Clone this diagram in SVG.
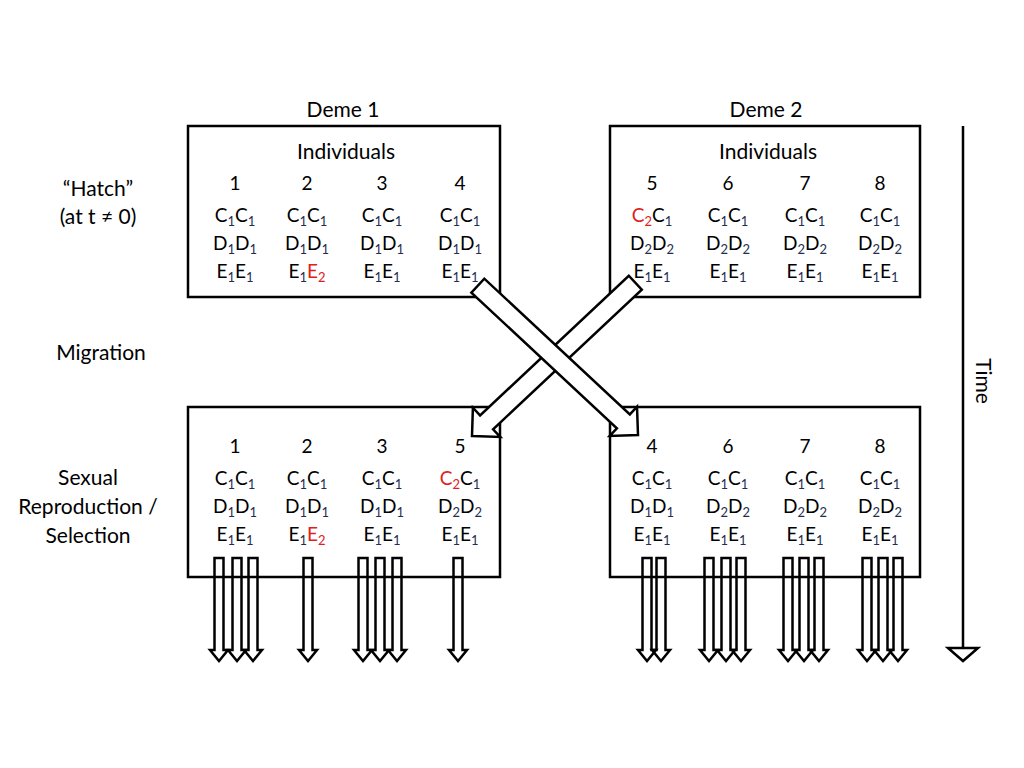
<svg xmlns="http://www.w3.org/2000/svg" width="1024" height="768" viewBox="0 0 1024 768">
<style>
text{font-family:Lato,"Open Sans","Liberation Sans",sans-serif;fill:#000}
.t{font-size:21px;text-anchor:middle}
.n{font-size:19px;text-anchor:middle}
.g{font-size:19px;text-anchor:middle}
.s{font-size:13px;fill:#1f2d4f}
.r{fill:#e0201b}
.box{fill:#fff;stroke:#000;stroke-width:2.5}
.da{fill:none;stroke:#000;stroke-width:2.5;stroke-linejoin:miter}
.ma{fill:#fff;stroke:#000;stroke-width:2.5}
</style>
<defs>
<path id="d" d="M-4.5,558 V650 H-9 L0,661 L9,650 H4.5 V558 Z"/>
</defs>
<text class="t" x="343" y="117">Deme 1</text>
<text class="t" x="766" y="117">Deme 2</text>
<g id="labels">
<text class="t" x="98" y="196">“Hatch”</text>
<text class="t" x="98" y="224">(at t ≠ 0)</text>
<text class="t" x="101" y="360">Migration</text>
<text class="t" x="88" y="485">Sexual</text>
<text class="t" x="88" y="514">Reproduction /</text>
<text class="t" x="88" y="543">Selection</text>
</g>
<g id="deme1-hatch">
<rect class="box" x="188" y="126" width="312" height="171"/>
<text class="t" x="346" y="159">Individuals</text>
<text class="n" x="235" y="190">1</text><text class="n" x="307" y="190">2</text><text class="n" x="382" y="190">3</text><text class="n" x="460" y="190">4</text>
<text class="g" x="235" y="222">C<tspan class="s" dy="4">1</tspan><tspan dy="-4">C</tspan><tspan class="s" dy="4">1</tspan></text>
<text class="g" x="235" y="250">D<tspan class="s" dy="4">1</tspan><tspan dy="-4">D</tspan><tspan class="s" dy="4">1</tspan></text>
<text class="g" x="235" y="278">E<tspan class="s" dy="4">1</tspan><tspan dy="-4">E</tspan><tspan class="s" dy="4">1</tspan></text>
<text class="g" x="307" y="222">C<tspan class="s" dy="4">1</tspan><tspan dy="-4">C</tspan><tspan class="s" dy="4">1</tspan></text>
<text class="g" x="307" y="250">D<tspan class="s" dy="4">1</tspan><tspan dy="-4">D</tspan><tspan class="s" dy="4">1</tspan></text>
<text class="g" x="307" y="278">E<tspan class="s" dy="4">1</tspan><tspan dy="-4" class="r">E</tspan><tspan class="s r" dy="4">2</tspan></text>
<text class="g" x="382" y="222">C<tspan class="s" dy="4">1</tspan><tspan dy="-4">C</tspan><tspan class="s" dy="4">1</tspan></text>
<text class="g" x="382" y="250">D<tspan class="s" dy="4">1</tspan><tspan dy="-4">D</tspan><tspan class="s" dy="4">1</tspan></text>
<text class="g" x="382" y="278">E<tspan class="s" dy="4">1</tspan><tspan dy="-4">E</tspan><tspan class="s" dy="4">1</tspan></text>
<text class="g" x="460" y="222">C<tspan class="s" dy="4">1</tspan><tspan dy="-4">C</tspan><tspan class="s" dy="4">1</tspan></text>
<text class="g" x="460" y="250">D<tspan class="s" dy="4">1</tspan><tspan dy="-4">D</tspan><tspan class="s" dy="4">1</tspan></text>
<text class="g" x="460" y="278">E<tspan class="s" dy="4">1</tspan><tspan dy="-4">E</tspan><tspan class="s" dy="4">1</tspan></text>
</g>
<g id="deme2-hatch">
<rect class="box" x="610" y="126" width="310" height="171"/>
<text class="t" x="768" y="159">Individuals</text>
<text class="n" x="652" y="190">5</text><text class="n" x="728" y="190">6</text><text class="n" x="805" y="190">7</text><text class="n" x="880" y="190">8</text>
<text class="g" x="652" y="222"><tspan class="r">C</tspan><tspan class="s r" dy="4">2</tspan><tspan dy="-4">C</tspan><tspan class="s" dy="4">1</tspan></text>
<text class="g" x="652" y="250">D<tspan class="s" dy="4">2</tspan><tspan dy="-4">D</tspan><tspan class="s" dy="4">2</tspan></text>
<text class="g" x="652" y="278">E<tspan class="s" dy="4">1</tspan><tspan dy="-4">E</tspan><tspan class="s" dy="4">1</tspan></text>
<text class="g" x="728" y="222">C<tspan class="s" dy="4">1</tspan><tspan dy="-4">C</tspan><tspan class="s" dy="4">1</tspan></text>
<text class="g" x="728" y="250">D<tspan class="s" dy="4">2</tspan><tspan dy="-4">D</tspan><tspan class="s" dy="4">2</tspan></text>
<text class="g" x="728" y="278">E<tspan class="s" dy="4">1</tspan><tspan dy="-4">E</tspan><tspan class="s" dy="4">1</tspan></text>
<text class="g" x="805" y="222">C<tspan class="s" dy="4">1</tspan><tspan dy="-4">C</tspan><tspan class="s" dy="4">1</tspan></text>
<text class="g" x="805" y="250">D<tspan class="s" dy="4">2</tspan><tspan dy="-4">D</tspan><tspan class="s" dy="4">2</tspan></text>
<text class="g" x="805" y="278">E<tspan class="s" dy="4">1</tspan><tspan dy="-4">E</tspan><tspan class="s" dy="4">1</tspan></text>
<text class="g" x="880" y="222">C<tspan class="s" dy="4">1</tspan><tspan dy="-4">C</tspan><tspan class="s" dy="4">1</tspan></text>
<text class="g" x="880" y="250">D<tspan class="s" dy="4">2</tspan><tspan dy="-4">D</tspan><tspan class="s" dy="4">2</tspan></text>
<text class="g" x="880" y="278">E<tspan class="s" dy="4">1</tspan><tspan dy="-4">E</tspan><tspan class="s" dy="4">1</tspan></text>
</g>
<g id="deme1-repro">
<rect class="box" x="188" y="407" width="312" height="170"/>
<text class="n" x="235" y="453">1</text><text class="n" x="307" y="453">2</text><text class="n" x="382" y="453">3</text><text class="n" x="460" y="453">5</text>
<text class="g" x="235" y="485">C<tspan class="s" dy="4">1</tspan><tspan dy="-4">C</tspan><tspan class="s" dy="4">1</tspan></text>
<text class="g" x="235" y="513">D<tspan class="s" dy="4">1</tspan><tspan dy="-4">D</tspan><tspan class="s" dy="4">1</tspan></text>
<text class="g" x="235" y="541">E<tspan class="s" dy="4">1</tspan><tspan dy="-4">E</tspan><tspan class="s" dy="4">1</tspan></text>
<text class="g" x="307" y="485">C<tspan class="s" dy="4">1</tspan><tspan dy="-4">C</tspan><tspan class="s" dy="4">1</tspan></text>
<text class="g" x="307" y="513">D<tspan class="s" dy="4">1</tspan><tspan dy="-4">D</tspan><tspan class="s" dy="4">1</tspan></text>
<text class="g" x="307" y="541">E<tspan class="s" dy="4">1</tspan><tspan dy="-4" class="r">E</tspan><tspan class="s r" dy="4">2</tspan></text>
<text class="g" x="382" y="485">C<tspan class="s" dy="4">1</tspan><tspan dy="-4">C</tspan><tspan class="s" dy="4">1</tspan></text>
<text class="g" x="382" y="513">D<tspan class="s" dy="4">1</tspan><tspan dy="-4">D</tspan><tspan class="s" dy="4">1</tspan></text>
<text class="g" x="382" y="541">E<tspan class="s" dy="4">1</tspan><tspan dy="-4">E</tspan><tspan class="s" dy="4">1</tspan></text>
<text class="g" x="460" y="485"><tspan class="r">C</tspan><tspan class="s r" dy="4">2</tspan><tspan dy="-4">C</tspan><tspan class="s" dy="4">1</tspan></text>
<text class="g" x="460" y="513">D<tspan class="s" dy="4">2</tspan><tspan dy="-4">D</tspan><tspan class="s" dy="4">2</tspan></text>
<text class="g" x="460" y="541">E<tspan class="s" dy="4">1</tspan><tspan dy="-4">E</tspan><tspan class="s" dy="4">1</tspan></text>
</g>
<g id="deme2-repro">
<rect class="box" x="610" y="407" width="310" height="170"/>
<text class="n" x="652" y="453">4</text><text class="n" x="728" y="453">6</text><text class="n" x="805" y="453">7</text><text class="n" x="880" y="453">8</text>
<text class="g" x="652" y="485">C<tspan class="s" dy="4">1</tspan><tspan dy="-4">C</tspan><tspan class="s" dy="4">1</tspan></text>
<text class="g" x="652" y="513">D<tspan class="s" dy="4">1</tspan><tspan dy="-4">D</tspan><tspan class="s" dy="4">1</tspan></text>
<text class="g" x="652" y="541">E<tspan class="s" dy="4">1</tspan><tspan dy="-4">E</tspan><tspan class="s" dy="4">1</tspan></text>
<text class="g" x="728" y="485">C<tspan class="s" dy="4">1</tspan><tspan dy="-4">C</tspan><tspan class="s" dy="4">1</tspan></text>
<text class="g" x="728" y="513">D<tspan class="s" dy="4">2</tspan><tspan dy="-4">D</tspan><tspan class="s" dy="4">2</tspan></text>
<text class="g" x="728" y="541">E<tspan class="s" dy="4">1</tspan><tspan dy="-4">E</tspan><tspan class="s" dy="4">1</tspan></text>
<text class="g" x="805" y="485">C<tspan class="s" dy="4">1</tspan><tspan dy="-4">C</tspan><tspan class="s" dy="4">1</tspan></text>
<text class="g" x="805" y="513">D<tspan class="s" dy="4">2</tspan><tspan dy="-4">D</tspan><tspan class="s" dy="4">2</tspan></text>
<text class="g" x="805" y="541">E<tspan class="s" dy="4">1</tspan><tspan dy="-4">E</tspan><tspan class="s" dy="4">1</tspan></text>
<text class="g" x="880" y="485">C<tspan class="s" dy="4">1</tspan><tspan dy="-4">C</tspan><tspan class="s" dy="4">1</tspan></text>
<text class="g" x="880" y="513">D<tspan class="s" dy="4">2</tspan><tspan dy="-4">D</tspan><tspan class="s" dy="4">2</tspan></text>
<text class="g" x="880" y="541">E<tspan class="s" dy="4">1</tspan><tspan dy="-4">E</tspan><tspan class="s" dy="4">1</tspan></text>
</g>
<g id="connectors">
<g class="da">
<use href="#d" x="219"/><use href="#d" x="237"/><use href="#d" x="253"/>
<use href="#d" x="308"/>
<use href="#d" x="363"/><use href="#d" x="380"/><use href="#d" x="397"/>
<use href="#d" x="458"/>
<use href="#d" x="647"/><use href="#d" x="661"/>
<use href="#d" x="709"/><use href="#d" x="726"/><use href="#d" x="741"/>
<use href="#d" x="788"/><use href="#d" x="804"/><use href="#d" x="819"/>
<use href="#d" x="867"/><use href="#d" x="883"/><use href="#d" x="898"/>
</g>
<polygon class="ma" transform="translate(472,436) rotate(136.8)" points="0,0 -20,-20 -20,-9.5 -224,-9.5 -224,9.5 -20,9.5 -20,20"/>
<polygon class="ma" transform="translate(638,435) rotate(43)" points="0,0 -20,-20 -20,-9.5 -219,-9.5 -219,9.5 -20,9.5 -20,20"/>
<line x1="963" y1="126" x2="963" y2="648" stroke="#000" stroke-width="2.5"/>
<polygon points="948,648 978,648 963,661" fill="#fff" stroke="#000" stroke-width="2.5"/>
</g>
<text class="t" transform="translate(976,381) rotate(90)">Time</text>
</svg>
